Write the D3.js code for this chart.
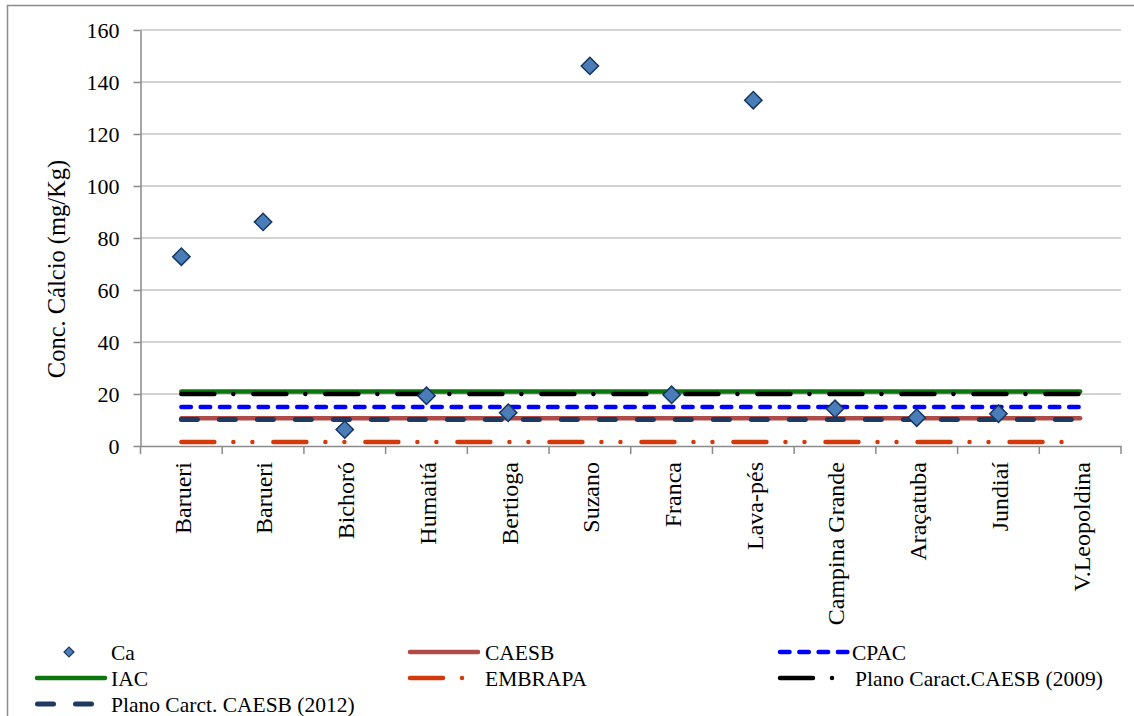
<!DOCTYPE html>
<html><head><meta charset="utf-8">
<script src="https://cdn.jsdelivr.net/npm/d3@7"></script>
<style>body{margin:0;background:#fff}svg{display:block}svg text{font-family:"Liberation Serif","Times New Roman",serif;fill:#000}</style>
</head><body><svg id="c" width="1134" height="716"></svg>
<script>
const categories = ["Barueri","Barueri","Bichoró","Humaitá","Bertioga","Suzano","Franca","Lava-pés","Campina Grande","Araçatuba","Jundiaí","V.Leopoldina"];
const caValues = [72.8, 86.2, 6.3, 19.3, 12.8, 146.2, 19.7, 133.0, 14.3, 10.9, 12.4, null];
const refNames = ["EMBRAPA","CAESB","Plano Carct. CAESB (2012)","CPAC","IAC","Plano Caract.CAESB (2009)"];
const refValues = [1.5, 10.7, 10.2, 15, 21.0, 20];
const yTicks = [0,20,40,60,80,100,120,140,160];

const styles = {
  "EMBRAPA": {color:"#d4390c", w:4.5, dash:"33,19,0.01,19,0.01,21"},
  "CAESB": {color:"#b04c48", w:4.5, dash:null},
  "Plano Carct. CAESB (2012)": {color:"#1f3a60", w:5, dash:"16,22"},
  "CPAC": {color:"#0000ff", w:4.5, dash:"9.5,9.8"},
  "IAC": {color:"#0a760c", w:4.5, dash:null},
  "Plano Caract.CAESB (2009)": {color:"#000000", w:4.5, dash:"33,19,0.01,20"}
};
const FONT = "Liberation Serif, Times New Roman, serif";

const svg = d3.select("#c");
svg.append("rect").attr("x",7.5).attr("y",5.5).attr("width",1140).attr("height",730)
  .attr("fill","#fff").attr("stroke","#8c8c8c").attr("stroke-width",1.5);

const L=140.5, R=1121, T=30, B=446;
const x = d3.scaleBand().domain(d3.range(categories.length)).range([L,R]).paddingInner(0).paddingOuter(0);
const y = d3.scaleLinear().domain([0,160]).range([B,T]);
const cx = i => x(i)+x.bandwidth()/2;
const axisColor="#8a8a8a";

// gridlines
svg.append("g").selectAll("line").data(yTicks.filter(d=>d>0)).join("line")
  .attr("x1",L).attr("x2",R).attr("y1",d=>y(d)).attr("y2",d=>y(d))
  .attr("stroke","#a6a6a6").attr("stroke-width",1);

// y axis
const ya = svg.append("g").attr("transform",`translate(${L},0)`)
  .call(d3.axisLeft(y).tickValues(yTicks).tickSize(7).tickSizeOuter(0).tickPadding(14));
ya.attr("font-family",FONT).attr("font-size",22);
ya.select(".domain").attr("stroke",axisColor).attr("stroke-width",1.5);
ya.selectAll(".tick line").attr("stroke",axisColor).attr("stroke-width",1.5);
ya.selectAll(".tick text").attr("font-family",FONT).attr("font-size",22).attr("fill","#000");

// x axis
const xa = svg.append("g").attr("transform",`translate(0,${B})`)
  .call(d3.axisBottom(x).tickValues([]).tickSizeOuter(0));
xa.select(".domain").attr("stroke",axisColor).attr("stroke-width",1.5);
const bounds = d3.range(categories.length+1).map(i => i<categories.length ? x(i) : x(i-1)+x.bandwidth());
svg.append("g").selectAll("line").data(bounds).join("line")
  .attr("x1",d=>d).attr("x2",d=>d).attr("y1",B).attr("y2",B+8)
  .attr("stroke",axisColor).attr("stroke-width",1.5);
svg.append("g").selectAll("text").data(categories).join("text")
  .attr("transform",(d,i)=>`translate(${cx(i)+1},${B+16}) rotate(-90)`)
  .attr("text-anchor","end").attr("dy","0.35em")
  .attr("font-family",FONT).attr("font-size",24).text(d=>d);

// y label
svg.append("text").attr("transform","translate(56,269) rotate(-90)")
  .attr("text-anchor","middle").attr("dy","0.35em")
  .attr("font-family",FONT).attr("font-size",24.5).text("Conc. Cálcio (mg/Kg)");

// reference lines
const n = categories.length;
refNames.forEach((name,k)=>{
  const s = styles[name];
  const line = d3.line().x(d=>cx(d[0])).y(d=>y(d[1]));
  svg.append("path").attr("d", line([[0,refValues[k]],[n-1,refValues[k]]]))
    .attr("fill","none").attr("stroke",s.color).attr("stroke-width",s.w)
    .attr("stroke-linecap","round").attr("stroke-dasharray",s.dash);
});

// Ca points
svg.append("g").selectAll("path").data(caValues.map((v,i)=>[i,v]).filter(d=>d[1]!=null)).join("path")
  .attr("d", d3.symbol().type(d3.symbolSquare).size(150)())
  .attr("transform",d=>`translate(${cx(d[0])},${y(d[1])}) rotate(45)`)
  .attr("fill","#4a7cb8").attr("stroke","#17365d").attr("stroke-width",1.5);

// legend
const leg = svg.append("g");
const legItems = [
  {name:"Ca", x:35, tx:111, y:652, type:"marker"},
  {name:"CAESB", x:410, tx:485, y:652},
  {name:"CPAC", x:780, tx:852, y:652},
  {name:"IAC", x:37, tx:111, y:678},
  {name:"EMBRAPA", x:410, tx:485, y:678},
  {name:"Plano Caract.CAESB (2009)", x:780, tx:855, y:678},
  {name:"Plano Carct. CAESB (2012)", x:37.5, tx:111, y:704}
];
legItems.forEach(it=>{
  if(it.type==="marker"){
    leg.append("path").attr("d", d3.symbol().type(d3.symbolSquare).size(50)())
      .attr("transform",`translate(69,${it.y}) rotate(45)`)
      .attr("fill","#4a7cb8").attr("stroke","#17365d").attr("stroke-width",1.2);
  } else {
    const s = styles[it.name];
    leg.append("line").attr("x1",it.x).attr("x2",it.x+68).attr("y1",it.y).attr("y2",it.y)
      .attr("stroke",s.color).attr("stroke-width",s.w).attr("stroke-linecap","round")
      .attr("stroke-dasharray", it.name==="EMBRAPA" ? "33,19,0.01,100" : s.dash);
  }
  leg.append("text").attr("x",it.tx).attr("y",it.y).attr("dy","0.35em")
    .attr("font-family",FONT).attr("font-size",21.5).text(it.name);
});
</script></body></html>
